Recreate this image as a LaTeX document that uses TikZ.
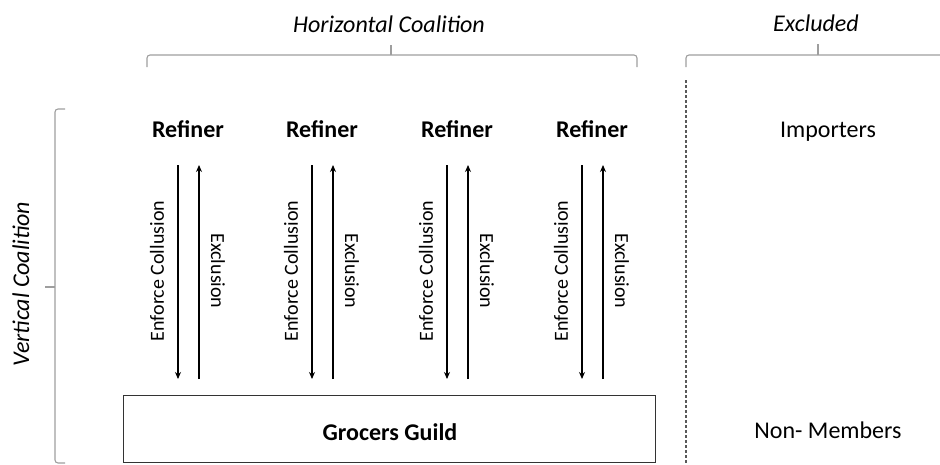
\documentclass[tikz,border=0pt]{standalone}
\usepackage{fontspec}
\setmainfont{Carlito}
\usetikzlibrary{arrows.meta}
\begin{document}
\begin{tikzpicture}[x=1pt,y=-1pt,
  brace/.style={draw=black!38,line width=1.1pt,rounded corners=3pt},
  flow/.style={draw=black,line width=1.1pt,-{Stealth[length=7pt,width=6pt]}},
  ital/.style={font=\fontsize{24}{28}\selectfont\itshape,inner sep=0pt},
  bold/.style={font=\fontsize{24}{28}\selectfont\bfseries,inner sep=0pt},
  plain/.style={font=\fontsize{24}{28}\selectfont,inner sep=0pt},
  side/.style={font=\fontsize{20}{24}\selectfont,inner sep=0pt}]
\useasboundingbox (0,0) rectangle (940,464);
% headings
\node[ital,anchor=base] (hc) at (389,32) {Horizontal Coalition};
\node[ital,anchor=base] (ex) at (816,31) {Excluded};
\node[ital,rotate=90] (vc) at (21,284) {Vertical Coalition};
% braces
\draw[brace] (147,67) -- (147,55) -- (637,55) -- (637,67);
\draw[brace] (391,55) -- (391,45);
\draw[brace] (686,67) -- (686,55) -- (945,55);
\draw[brace] (818,55) -- (818,44);
\draw[brace] (65,109) -- (55,109) -- (55,463) -- (65,463);
\draw[brace] (55,287) -- (45,287);
% dashed separator
\draw[black!65,line width=1.2pt,dash pattern=on 3pt off 2pt] (686,80) -- (686,464);
% guild box
\node[draw=black!80,line width=0.9pt,minimum width=532pt,minimum height=67pt,inner sep=0pt] (gg) at (389,428.5) {};
\node[bold,anchor=base] (ggt) at (390,440) {Grocers Guild};
% excluded labels
\node[plain,anchor=base] (imp) at (828,137) {Importers};
\node[plain,anchor=base] (nm) at (828,438) {Non- Members};
% refiners with arrows
\foreach \i/\x in {1/188,2/322,3/457,4/592}{
  \node[bold,anchor=base] (r\i) at (\x,137) {Refiner};
  \coordinate (dt\i) at (\x-10,165);
  \coordinate (db\i) at (\x-10,379);
  \coordinate (ut\i) at (\x+11,165);
  \coordinate (ub\i) at (\x+11,379);
  \draw[flow] (dt\i) -- (db\i);
  \draw[flow] (ub\i) -- (ut\i);
  \node[side,rotate=90] (ec\i) at (\x-31,271) {Enforce Collusion};
  \node[side,rotate=-90] (el\i) at (\x+30,271) {Exclusion};
}
\end{tikzpicture}
\end{document}
